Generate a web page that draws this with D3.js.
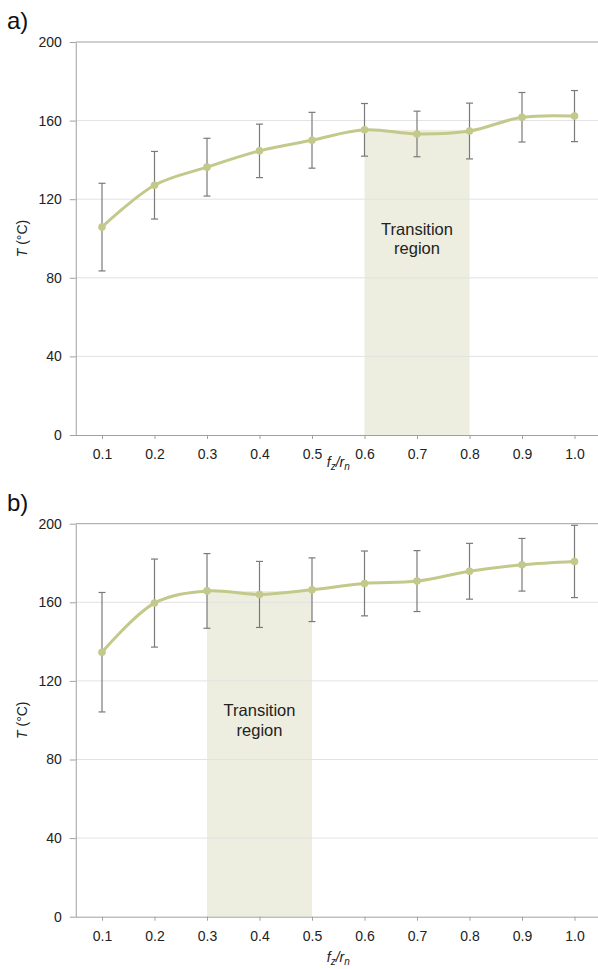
<!DOCTYPE html>
<html>
<head>
<meta charset="utf-8">
<script src="https://cdn.jsdelivr.net/npm/d3@7"></script>
<style>
  html, body { margin: 0; padding: 0; background: #fff; }
  svg { display: block; font-family: "Liberation Sans", Arial, sans-serif; }
</style>
</head>
<body>
<svg id="chart" width="598" height="969"></svg>
<script>
// --- data ---
const categories = ["0.1", "0.2", "0.3", "0.4", "0.5", "0.6", "0.7", "0.8", "0.9", "1.0"];
const yTicks = [0, 40, 80, 120, 160, 200];

const meanA = [105.8, 127.1, 136.3, 144.6, 150.0, 155.3, 153.2, 154.7, 161.7, 162.3];
const errA  = [22.3, 17.2, 14.7, 13.6, 14.2, 13.4, 11.6, 14.2, 12.6, 13.0];
const regionA = { from: "0.6", to: "0.8", top: 155.3 };

const meanB = [134.6, 159.6, 165.8, 164.0, 166.4, 169.6, 170.8, 175.8, 179.1, 180.8];
const errB  = [30.4, 22.4, 19.0, 16.8, 16.2, 16.5, 15.5, 14.2, 13.4, 18.4];
const regionB = { from: "0.3", to: "0.5", top: 165.8 };

const panels = [
  { label: "a)", mean: meanA, err: errA, region: regionA, top: 42, bottom: 435, titleGap: 32 },
  { label: "b)", mean: meanB, err: errB, region: regionB, top: 523.7, bottom: 916.7, titleGap: 45 }
];

const svg = d3.select("#chart");
const plotLeft = 75.75, plotRight = 600.75;
const lineColor = "#c3c98a";
const labelLevel = 102; // value where the "Transition" line sits

const x = d3.scalePoint()
  .domain(categories)
  .range([plotLeft, plotRight])
  .padding(0.5);

panels.forEach(p => {
  const y = d3.scaleLinear().domain([0, 200]).range([p.bottom, p.top]);
  const g = svg.append("g");
  const pts = categories.map((c, i) => ({ c, v: p.mean[i], e: p.err[i] }));

  // transition region shading
  g.append("rect")
    .attr("x", x(p.region.from))
    .attr("width", x(p.region.to) - x(p.region.from))
    .attr("y", y(p.region.top))
    .attr("height", y(0) - y(p.region.top))
    .attr("fill", "#edeedf");

  // gridlines
  g.append("g")
    .selectAll("line")
    .data(yTicks.filter(t => t > 0 && t < 200))
    .join("line")
    .attr("x1", plotLeft).attr("x2", plotRight)
    .attr("y1", d => y(d)).attr("y2", d => y(d))
    .attr("stroke", "#e2e2e2")
    .attr("stroke-width", 1);

  // top border at 200
  g.append("line")
    .attr("x1", plotLeft).attr("x2", plotRight)
    .attr("y1", y(200)).attr("y2", y(200))
    .attr("stroke", "#a0a0a0");

  // label in region
  const cx = (x(p.region.from) + x(p.region.to)) / 2;
  const txt = g.append("text")
    .attr("x", cx).attr("y", y(labelLevel))
    .attr("text-anchor", "middle")
    .attr("font-size", 16.5)
    .attr("fill", "#222");
  txt.append("tspan").attr("x", cx).attr("dy", 0).text("Transition");
  txt.append("tspan").attr("x", cx).attr("dy", 19.5).text("region");

  // y axis
  const yAxis = g.append("g")
    .attr("transform", `translate(${plotLeft},0)`)
    .call(d3.axisLeft(y).tickValues(yTicks).tickSize(6).tickSizeOuter(0).tickPadding(8));
  yAxis.select(".domain").attr("stroke", "#a0a0a0");
  yAxis.selectAll(".tick line").attr("stroke", "#a0a0a0");
  yAxis.selectAll(".tick text").attr("font-size", 14).attr("fill", "#222")
    .attr("font-family", "Liberation Sans, Arial, sans-serif");

  // x axis
  const xAxis = g.append("g")
    .attr("transform", `translate(0,${y(0)})`)
    .call(d3.axisBottom(x).tickSize(4).tickSizeOuter(0).tickPadding(10));
  xAxis.select(".domain").attr("stroke", "#a0a0a0").attr("d", `M${plotLeft},0.5H${plotRight}`);
  xAxis.selectAll(".tick line").attr("stroke", "#a0a0a0");
  xAxis.selectAll(".tick text").attr("font-size", 14).attr("fill", "#222")
    .attr("font-family", "Liberation Sans, Arial, sans-serif");

  // error bars
  const eb = g.append("g").attr("stroke", "#7a7a7a").attr("stroke-width", 1.2);
  eb.selectAll("line.v").data(pts).join("line").attr("class", "v")
    .attr("x1", d => x(d.c)).attr("x2", d => x(d.c))
    .attr("y1", d => y(d.v + d.e)).attr("y2", d => y(d.v - d.e));
  eb.selectAll("line.t").data(pts).join("line").attr("class", "t")
    .attr("x1", d => x(d.c) - 3.5).attr("x2", d => x(d.c) + 3.5)
    .attr("y1", d => y(d.v + d.e)).attr("y2", d => y(d.v + d.e));
  eb.selectAll("line.b").data(pts).join("line").attr("class", "b")
    .attr("x1", d => x(d.c) - 3.5).attr("x2", d => x(d.c) + 3.5)
    .attr("y1", d => y(d.v - d.e)).attr("y2", d => y(d.v - d.e));

  // smooth line
  const line = d3.line()
    .x(d => x(d.c))
    .y(d => y(d.v))
    .curve(d3.curveCatmullRom.alpha(0.5));
  g.append("path")
    .datum(pts)
    .attr("d", line)
    .attr("fill", "none")
    .attr("stroke", lineColor)
    .attr("stroke-width", 3);

  g.selectAll("circle").data(pts).join("circle")
    .attr("cx", d => x(d.c)).attr("cy", d => y(d.v))
    .attr("r", 3.8)
    .attr("fill", lineColor);

  // y title
  const yt = g.append("text")
    .attr("transform", `translate(27,${(p.top + p.bottom) / 2}) rotate(-90)`)
    .attr("text-anchor", "middle")
    .attr("font-size", 14)
    .attr("fill", "#222");
  yt.append("tspan").attr("font-style", "italic").text("T");
  yt.append("tspan").text(" (°C)");

  // x title f_z / r_n
  const xt = g.append("text")
    .attr("x", (plotLeft + plotRight) / 2)
    .attr("y", y(0) + p.titleGap)
    .attr("text-anchor", "middle")
    .attr("font-size", 14)
    .attr("font-style", "italic")
    .attr("fill", "#222");
  xt.append("tspan").text("f");
  xt.append("tspan").attr("font-size", 10).attr("dy", 3).text("z");
  xt.append("tspan").attr("dy", -3).text("/r");
  xt.append("tspan").attr("font-size", 10).attr("dy", 3).text("n");

  // panel label
  svg.append("text")
    .attr("x", 7)
    .attr("y", p.top - 13)
    .attr("font-size", 24)
    .attr("fill", "#111")
    .text(p.label);
});
</script>
</body>
</html>
